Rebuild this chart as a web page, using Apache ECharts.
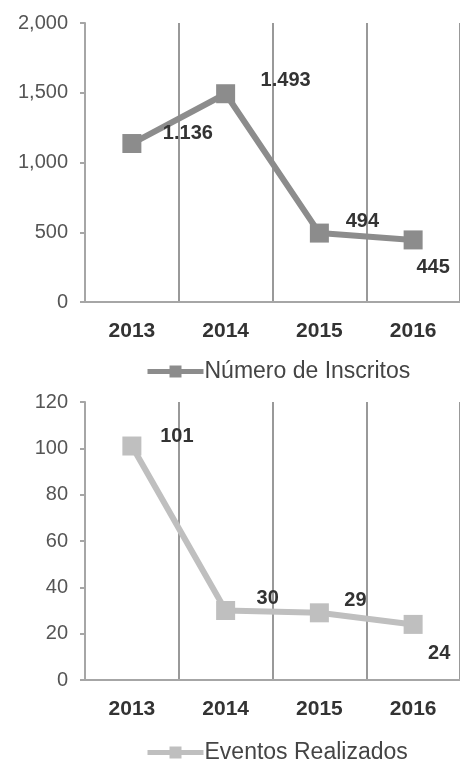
<!DOCTYPE html>
<html>
<head>
<meta charset="utf-8">
<script src="https://cdn.jsdelivr.net/npm/echarts@6/dist/echarts.min.js"></script>
<style>
  html, body { margin: 0; padding: 0; background: #fff; }
  #chart { width: 460px; height: 759px; }
</style>
</head>
<body>
<div id="chart"></div>
<script>
    'use strict'

    var years = ['2013', '2014', '2015', '2016'];
    var inscritos = [1136, 1493, 494, 445];
    var eventos = [101, 30, 29, 24];
    var inscritosTicks = [0, 2000, 500];
    var eventosTicks = [0, 120, 20];

    // label offsets from the marker centre, per point
    var offsetsTop = [[56, -10], [60, -13], [43, -12], [20, 28]];
    var offsetsBottom = [[45, -10], [42, -12], [36, -12], [26, 29]];

    function dotted(v) {
        return String(v).replace(/\B(?=(\d{3})+(?!\d))/g, '.');
    }

    function points(values, offsets) {
        return values.map(function (v, i) {
            return {
                value: v,
                label: { offset: offsets[i] }
            };
        });
    }

    var font = 'Liberation Sans, Arial, sans-serif';

    function xAxis(idx) {
        return {
            type: 'category',
            gridIndex: idx,
            data: years,
            boundaryGap: true,
            axisLine: { lineStyle: { color: '#a6a6a6', width: 2 } },
            axisTick: { show: false },
            splitLine: { show: true, lineStyle: { color: '#999', width: 2 } },
            axisLabel: {
                margin: 19,
                fontSize: 21,
                fontWeight: 'bold',
                color: '#333',
                fontFamily: font
            }
        };
    }

    function yAxis(idx, ticks) {
        return {
            type: 'value',
            gridIndex: idx,
            min: ticks[0],
            max: ticks[1],
            interval: ticks[2],
            axisLine: { show: true, lineStyle: { color: '#a6a6a6', width: 2 } },
            axisTick: { show: true, length: 5, lineStyle: { color: '#a6a6a6', width: 2 } },
            splitLine: { show: false },
            axisLabel: {
                margin: 17,
                fontSize: 20,
                color: '#555',
                fontFamily: font,
                formatter: function (v) { return v.toLocaleString('en-US'); }
            }
        };
    }

    function series(name, idx, values, offsets, color) {
        return {
            name: name,
            type: 'line',
            xAxisIndex: idx,
            yAxisIndex: idx,
            data: points(values, offsets),
            symbol: 'rect',
            symbolSize: 19,
            color: color,
            lineStyle: { width: 6, color: color },
            itemStyle: { color: color },
            label: {
                show: true,
                position: 'inside',
                fontSize: 20,
                fontWeight: 'bold',
                color: '#333',
                fontFamily: font,
                formatter: function (p) { return dotted(p.value); }
            },
            animation: false
        };
    }

    function legend(name, top) {
        return {
            data: [name],
            left: 140,
            top: top,
            itemWidth: 56,
            itemHeight: 15,
            itemGap: 0,
            lineStyle: { width: 5 },
            textStyle: { fontSize: 23, color: '#444', fontFamily: font, padding: [0, 0, 0, -4] },
            selectedMode: false
        };
    }

    var chart = echarts.init(document.getElementById('chart'));
    var option = {
        backgroundColor: '#fff',
        animation: false,
        grid: [
            { left: 85, top: 23, width: 377, height: 279 },
            { left: 85, top: 402, width: 377, height: 278 }
        ],
        legend: [
            legend('Número de Inscritos', 355),
            legend('Eventos Realizados', 736)
        ],
        xAxis: [xAxis(0), xAxis(1)],
        yAxis: [yAxis(0, inscritosTicks), yAxis(1, eventosTicks)],
        series: [
            series('Número de Inscritos', 0, inscritos, offsetsTop, '#8c8c8c'),
            series('Eventos Realizados', 1, eventos, offsetsBottom, '#bfbfbf')
        ]
    };
    chart.setOption(option);
    window.addEventListener('resize', function () {
        chart.resize();
    })
</script>
</body>
</html>
